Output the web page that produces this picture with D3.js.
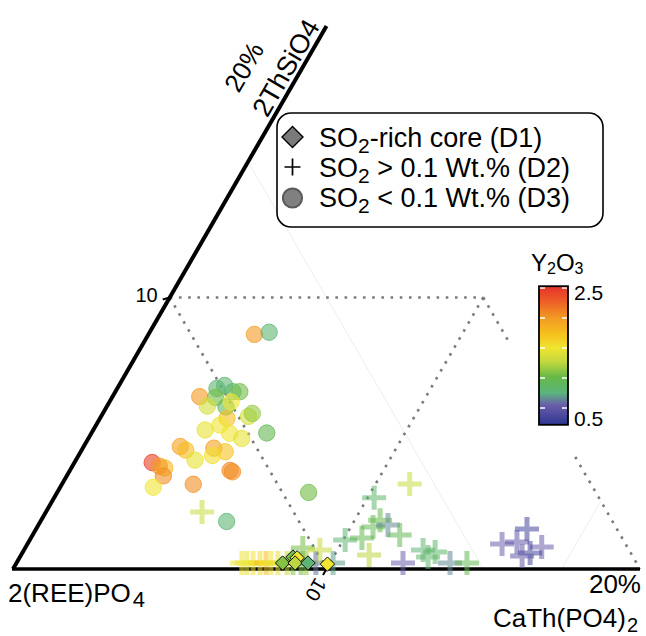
<!DOCTYPE html>
<html>
<head>
<meta charset="utf-8">
<script src="https://cdn.jsdelivr.net/npm/d3@7"></script>
<style>
  html, body { margin: 0; padding: 0; background: #fff; }
  svg { display: block; font-family: "Liberation Sans", Arial, Helvetica, sans-serif; }
</style>
</head>
<body>
<svg id="chart" width="646" height="636"></svg>
<script>
// Each point: [2ThSiO4 %, CaTh(PO4)2 %, Y2O3 wt.%]; the rest is 2(REE)PO4.
const coreD1 = [
  [0.22, 8.49, 1.10], [0.44, 8.71, 1.05], [0.41, 8.86, 1.50],
  [0.22, 8.89, 1.25], [0.22, 9.30, 0.80], [0.18, 9.94, 1.50]
];

const highSO2D2 = [
  [0.22, 7.19, 1.50], [0.22, 7.35, 1.45], [0.22, 7.55, 1.50], [0.22, 7.77, 1.55],
  [0.22, 7.96, 1.75], [0.22, 8.12, 1.50], [0.22, 8.34, 1.45], [0.22, 8.63, 1.30],
  [0.22, 8.82, 1.10], [0.22, 9.08, 1.05], [0.22, 9.24, 1.15], [0.22, 9.55, 0.60],
  [0.22, 10.10, 0.70], [0.77, 8.86, 1.05], [0.70, 9.44, 1.30],
  [3.13, 11.09, 1.30], [2.62, 10.21, 0.85], [1.80, 10.81, 1.00], [1.55, 10.71, 0.95],
  [1.62, 11.15, 0.65], [1.25, 11.71, 0.95], [1.07, 10.06, 0.80], [1.14, 10.56, 0.95],
  [0.52, 11.10, 1.25], [0.70, 12.73, 0.80], [0.44, 13.02, 0.85], [0.22, 12.33, 0.55],
  [0.22, 13.83, 0.65], [0.22, 14.37, 0.95], [0.63, 13.15, 0.85],
  [1.47, 15.66, 0.35], [0.92, 15.14, 0.55], [0.99, 15.58, 0.50], [0.81, 16.46, 0.55],
  [0.59, 16.20, 0.35], [0.48, 16.00, 0.50],
  [2.10, 4.98, 1.30]
];

const lowSO2D3 = [
  [8.64, 3.38, 2.00], [8.72, 3.81, 0.80], [6.65, 3.18, 0.80], [6.76, 3.37, 0.80],
  [6.53, 3.75, 0.85], [6.53, 3.97, 1.05], [6.32, 3.30, 1.05], [6.35, 2.78, 2.00],
  [6.00, 3.20, 1.35], [5.97, 3.81, 0.90], [5.62, 4.70, 1.35], [5.73, 4.77, 1.15],
  [5.55, 4.05, 1.75], [5.30, 3.95, 1.50], [5.12, 3.57, 1.45], [5.00, 4.41, 1.50],
  [4.81, 4.89, 1.45], [5.01, 5.59, 0.95], [4.51, 3.08, 1.95], [4.38, 3.32, 1.75],
  [4.45, 4.18, 1.95], [4.32, 4.61, 1.70], [4.18, 4.27, 1.55], [4.01, 3.80, 1.45],
  [3.92, 2.48, 2.45], [3.72, 2.98, 1.80], [3.79, 2.77, 2.00], [3.43, 3.08, 2.05],
  [3.63, 5.11, 2.10], [3.58, 5.21, 2.05], [3.01, 2.97, 1.50], [3.12, 4.19, 2.05],
  [2.82, 8.02, 1.05], [1.75, 5.94, 0.80], [6.15, 3.88, 1.50]
];

// Y2O3 colour map (value -> colour)
const y2o3Stops  = [0.22, 0.55, 0.75, 1.02, 1.27, 1.50, 1.72, 2.00, 2.30, 2.53];
const y2o3Colors = ["#2d3590", "#6a5eab", "#5bb47d", "#67b946", "#c2d83e",
                    "#f0e530", "#f6c21d", "#f39a22", "#ec5a27", "#e4322b"];
const colorbarTicks = [2.5, 2.0, 1.5, 1.0, 0.5];
const colorbarLabels = [2.5, 0.5];
const colorbarExtent = [0.22, 2.53];

// Guide lines in [ThSiO4, CaTh] pairs
const dottedGuides = [
  [[10, 0], [10, 10]],
  [[10, 0], [0, 10]],
  [[10, 10], [0, 10]],
  [[10, 10], [0, 20]]
];
const faintGuides = [
  [[15, 0], [0, 15]],
  [[0, 17.5], [2.5, 17.5]]
];
const leftTicks = [10];
const bottomTicks = [10];

const legendItems = [
  { shape: "diamond", main: "SO", sub: "2", rest: "-rich core (D1)" },
  { shape: "plus",    main: "SO", sub: "2", rest: " > 0.1 Wt.% (D2)" },
  { shape: "circle",  main: "SO", sub: "2", rest: " < 0.1 Wt.% (D3)" }
];

const svg = d3.select("#chart");

// Ternary frame: 20% corner, equilateral
const xScale = d3.scaleLinear().domain([0, 20]).range([13, 640]);
const yScale = d3.scaleLinear().domain([0, 20]).range([569, 26]);
const edgeScale = d3.scaleLinear().domain([0, 20]).range([0, 627]);
const project = (th, cath) => [xScale(cath + th / 2), yScale(th)];

const color = d3.scaleLinear().domain(y2o3Stops).range(y2o3Colors).clamp(true);

// Faint grid lines
svg.append("g").selectAll("line").data(faintGuides).join("line")
  .attr("x1", d => project(...d[0])[0]).attr("y1", d => project(...d[0])[1])
  .attr("x2", d => project(...d[1])[0]).attr("y2", d => project(...d[1])[1])
  .attr("stroke", "#eeeeee").attr("stroke-width", 1);

// Dotted 10% guides
svg.append("g").selectAll("line").data(dottedGuides).join("line")
  .attr("x1", d => project(...d[0])[0]).attr("y1", d => project(...d[0])[1])
  .attr("x2", d => project(...d[1])[0]).attr("y2", d => project(...d[1])[1])
  .attr("stroke", "#7a7a7a").attr("stroke-width", 2.6)
  .attr("stroke-dasharray", "2.6 6.6");

// Axes
const [bx, by] = project(0, 0);
const [rx, ry] = project(0, 20);
const [tx, ty] = project(20, 0);
svg.append("line").attr("x1", bx).attr("y1", by).attr("x2", tx).attr("y2", ty)
  .attr("stroke", "#000").attr("stroke-width", 4);
svg.append("line").attr("x1", bx - 1).attr("y1", by).attr("x2", rx).attr("y2", ry)
  .attr("stroke", "#000").attr("stroke-width", 3.5);

// Tick marks and labels
leftTicks.forEach(t => {
  const [px, py] = project(t, 0);
  svg.append("path").attr("d", `M${px},${py} L${px - 7},${py + 2}`)
    .attr("stroke", "#000").attr("stroke-width", 2).attr("fill", "none");
  svg.append("text").attr("x", px - 12).attr("y", py + 4)
    .attr("text-anchor", "end").attr("font-size", 20).text(t);
});
bottomTicks.forEach(t => {
  const [px, py] = project(0, t);
  svg.append("path").attr("d", `M${px},${py} L${px - 3.5},${py + 6}`)
    .attr("stroke", "#000").attr("stroke-width", 2).attr("fill", "none");
  svg.append("text")
    .attr("transform", `translate(${px - 5},${py + 11}) rotate(120)`)
    .attr("font-size", 20).attr("dy", "0.35em").text(t);
});

// Left axis title, along the edge
const edgeG = svg.append("g").attr("transform", `translate(${bx},${by}) rotate(-60)`);
edgeG.append("text").attr("x", edgeScale(17.55)).attr("y", -42)
  .attr("text-anchor", "middle").attr("font-size", 26).text("20%");
edgeG.append("text").attr("x", edgeScale(18.2)).attr("y", -5)
  .attr("text-anchor", "middle").attr("font-size", 27).text("2ThSiO4");

// Bottom labels
const bl = svg.append("text").attr("x", 8).attr("y", 602).attr("font-size", 26);
bl.append("tspan").text("2(REE)PO");
bl.append("tspan").attr("font-size", 22).attr("dy", 5).attr("dx", 2).text("4");
svg.append("text").attr("x", 641).attr("y", 593).attr("text-anchor", "end")
  .attr("font-size", 26).text("20%");
const br = svg.append("text").attr("x", 493).attr("y", 627).attr("font-size", 26);
br.append("tspan").text("CaTh(PO4)");
br.append("tspan").attr("font-size", 20).attr("dy", 5).attr("dx", 1).text("2");

// Colorbar
const cbX = 539, cbW = 29;
const cbY = d3.scaleLinear().domain([0.5, 2.5]).range([408, 288]);
svg.append("rect").attr("x", 500).attr("y", 340).attr("width", 100).attr("height", 114)
  .attr("fill", "#fff");
const defs = svg.append("defs");
const grad = defs.append("linearGradient").attr("id", "y2o3grad")
  .attr("x1", 0).attr("y1", 1).attr("x2", 0).attr("y2", 0);
const span = colorbarExtent[1] - colorbarExtent[0];
grad.selectAll("stop").data(y2o3Stops).join("stop")
  .attr("offset", d => Math.max(0, Math.min(1, (d - colorbarExtent[0]) / span)))
  .attr("stop-color", d => color(d));
const cbTop = cbY(colorbarExtent[1]), cbBot = cbY(colorbarExtent[0]);
svg.append("rect").attr("x", cbX).attr("y", cbTop).attr("width", cbW)
  .attr("height", cbBot - cbTop).attr("fill", "url(#y2o3grad)");
svg.append("g").selectAll("path").data(colorbarTicks).join("path")
  .attr("d", d => `M${cbX + 1},${cbY(d)} h5 M${cbX + cbW - 6},${cbY(d)} h5`)
  .attr("stroke", "#fff").attr("stroke-width", 1.3);
svg.append("rect").attr("x", cbX).attr("y", cbTop).attr("width", cbW)
  .attr("height", cbBot - cbTop).attr("fill", "none")
  .attr("stroke", "#000").attr("stroke-width", 1.8);
svg.append("g").selectAll("text").data(colorbarLabels).join("text")
  .attr("x", cbX + cbW + 6)
  .attr("y", d => cbY(d) + (d > 1.5 ? 12 : 18))
  .attr("font-size", 21).text(d => d.toFixed(1));
const cbt = svg.append("text").attr("x", 531).attr("y", 271).attr("font-size", 24);
cbt.append("tspan").text("Y");
cbt.append("tspan").attr("font-size", 16).attr("dy", 3).text("2");
cbt.append("tspan").attr("dy", -3).text("O");
cbt.append("tspan").attr("font-size", 16).attr("dy", 3).text("3");

// D3 circles
svg.append("g").selectAll("circle").data(lowSO2D3).join("circle")
  .attr("cx", d => project(d[0], d[1])[0]).attr("cy", d => project(d[0], d[1])[1])
  .attr("r", 8.2)
  .attr("fill", d => color(d[2])).attr("fill-opacity", 0.6)
  .attr("stroke", d => color(d[2])).attr("stroke-opacity", 0.75).attr("stroke-width", 1);

// D2 plus markers
const plusArm = 12;
svg.append("g").selectAll("path").data(highSO2D2).join("path")
  .attr("d", d => {
    const [px, py] = project(d[0], d[1]);
    return `M${px - plusArm},${py} H${px + plusArm} M${px},${py - plusArm} V${py + plusArm}`;
  })
  .attr("stroke", d => color(d[2])).attr("stroke-opacity", 0.55)
  .attr("stroke-width", 5).attr("fill", "none");

// D1 diamonds
const dia = 7.2;
svg.append("g").selectAll("path").data(coreD1).join("path")
  .attr("d", d => {
    const [px, py] = project(d[0], d[1]);
    return `M${px},${py - dia} L${px + dia},${py} L${px},${py + dia} L${px - dia},${py} Z`;
  })
  .attr("fill", d => color(d[2])).attr("stroke", "#111").attr("stroke-width", 1);

// Legend
const lg = svg.append("g");
lg.append("rect").attr("x", 277).attr("y", 113).attr("width", 326).attr("height", 114)
  .attr("rx", 14).attr("ry", 14).attr("fill", "#fff")
  .attr("stroke", "#000").attr("stroke-width", 1.6);
const rowY = d3.scaleLinear().domain([0, 2]).range([147, 207]);
legendItems.forEach((it, i) => {
  const cy = rowY(i) - 10;
  const mx = 292.5;
  if (it.shape === "diamond") {
    lg.append("path").attr("d", `M${mx},${cy - 10.5} L${mx + 10.5},${cy} L${mx},${cy + 10.5} L${mx - 10.5},${cy} Z`)
      .attr("fill", "#7a7a7a").attr("stroke", "#000").attr("stroke-width", 1.4);
  } else if (it.shape === "plus") {
    lg.append("path").attr("d", `M${mx - 8},${cy} H${mx + 8} M${mx},${cy - 8.5} V${cy + 8.5}`)
      .attr("stroke", "#000").attr("stroke-width", 1.7).attr("fill", "none");
  } else {
    lg.append("circle").attr("cx", mx).attr("cy", cy + 1).attr("r", 9.6)
      .attr("fill", "#808080").attr("stroke", "#5a5a5a").attr("stroke-width", 2);
  }
  const t = lg.append("text").attr("x", 319).attr("y", rowY(i)).attr("font-size", 27);
  t.append("tspan").text(it.main);
  t.append("tspan").attr("font-size", 21).attr("dy", 6).text(it.sub);
  t.append("tspan").attr("dy", -6).text(it.rest);
});
</script>
</body>
</html>
